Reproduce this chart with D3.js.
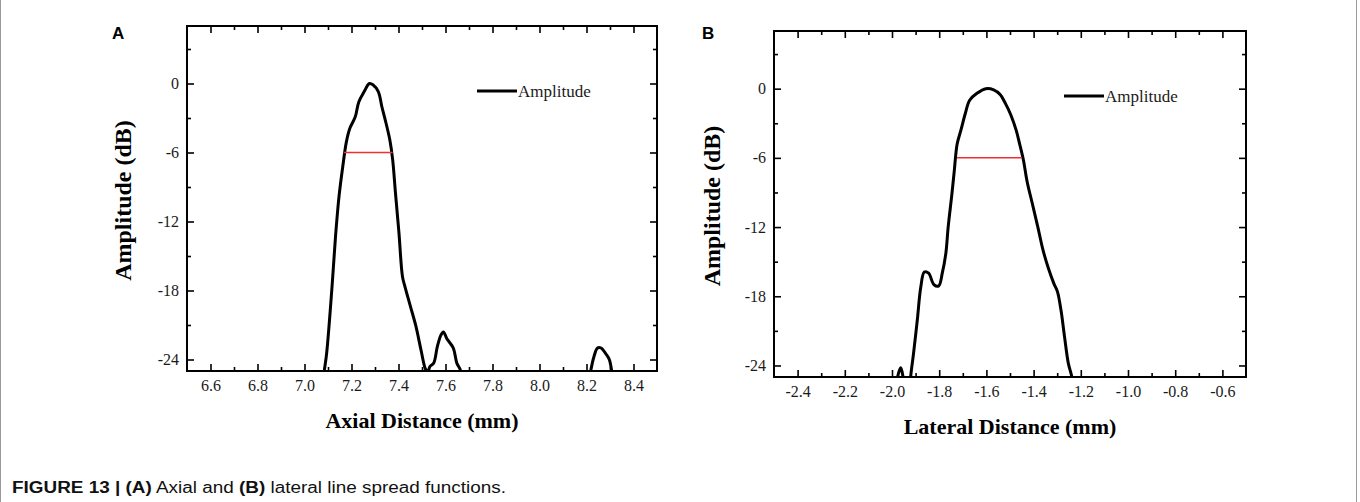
<!DOCTYPE html>
<html>
<head>
<meta charset="utf-8">
<script src="https://cdn.jsdelivr.net/npm/d3@7"></script>
<style>
  body { margin: 0; background: #fff; }
  svg { display: block; }
</style>
</head>
<body>
<svg id="fig" width="1360" height="502"></svg>
<script>
// axial line spread function (A)
var axialX = [7.075, 7.084, 7.094, 7.117, 7.132, 7.147, 7.163, 7.178, 7.193, 7.216, 7.231, 7.254, 7.276,
              7.291, 7.314, 7.329, 7.344, 7.363, 7.375, 7.387, 7.402, 7.417, 7.428, 7.451, 7.474, 7.496,
              7.514, 7.524, 7.534, 7.550, 7.565, 7.580, 7.591, 7.606, 7.633, 7.648, 7.663, 7.675,
              8.205, 8.216, 8.231, 8.247, 8.262, 8.282, 8.297, 8.308, 8.318];
var axialY = [-26.5, -25.0, -23.5, -17.7, -13.3, -9.8, -7.2, -5.1, -3.9, -2.9, -1.6, -0.7, 0.0,
              -0.1, -0.7, -2.0, -3.2, -4.9, -6.6, -9.5, -13.0, -16.8, -17.7, -19.4, -21.1, -23.2,
              -24.8, -25.1, -24.6, -24.3, -22.9, -21.9, -21.6, -22.2, -23.0, -24.3, -24.9, -26.5,
              -26.5, -25.2, -23.8, -23.0, -23.0, -23.5, -24.0, -25.1, -26.5];
var axialFwhm = [7.167, 7.375];

// lateral line spread function (B)
var lateralX = [-1.985, -1.974, -1.963, -1.954, -1.945, -1.925, -1.921, -1.909, -1.893, -1.878, -1.863,
                -1.845, -1.822, -1.802, -1.787, -1.772, -1.762, -1.746, -1.736, -1.724, -1.708, -1.690,
                -1.671, -1.640, -1.602, -1.569, -1.542, -1.519, -1.496, -1.474, -1.459, -1.443, -1.428,
                -1.405, -1.382, -1.360, -1.337, -1.314, -1.299, -1.284, -1.269, -1.253, -1.238, -1.230];
var lateralY = [-26.5, -24.8, -24.2, -24.9, -26.5, -26.5, -25.0, -23.0, -20.1, -17.2, -15.9,
                -16.0, -17.0, -17.1, -16.0, -14.3, -12.0, -9.1, -7.1, -4.8, -3.6, -2.2,
                -1.0, -0.4, 0.0, -0.1, -0.5, -1.3, -2.3, -3.6, -4.8, -6.2, -8.0,
                -10.0, -12.0, -14.0, -15.6, -16.9, -17.6, -19.2, -21.5, -23.8, -25.0, -26.5];
var lateralFwhm = [-1.725, -1.450];

var axialTicks   = [6.6, 6.8, 7.0, 7.2, 7.4, 7.6, 7.8, 8.0, 8.2, 8.4];
var axialMinor   = [6.7, 6.9, 7.1, 7.3, 7.5, 7.7, 7.9, 8.1, 8.3];
var lateralTicks = [-2.4, -2.2, -2.0, -1.8, -1.6, -1.4, -1.2, -1.0, -0.8, -0.6];
var lateralMinor = [-2.3, -2.1, -1.9, -1.7, -1.5, -1.3, -1.1, -0.9, -0.7];
var dbTicks      = [0, -6, -12, -18, -24];
var dbMinor      = [3, -3, -9, -15, -21];

var serif = 'Liberation Serif, Times New Roman, serif';
var svg = d3.select('#fig');
svg.append('rect').attr('width', 1360).attr('height', 502).attr('fill', '#fff');
svg.append('line').attr('x1', 0.5).attr('x2', 0.5).attr('y1', 0).attr('y2', 502)
  .attr('stroke', '#9a9a9a').attr('stroke-width', 1);
svg.append('line').attr('x1', 1356.5).attr('x2', 1356.5).attr('y1', 0).attr('y2', 502)
  .attr('stroke', '#9a9a9a').attr('stroke-width', 1);

function drawPanel(opt) {
  var w = opt.right - opt.left, h = opt.bottom - opt.top;
  var x = d3.scaleLinear().domain(opt.xDomain).range([0, w]);
  var y = d3.scaleLinear().domain([-25, 5]).range([h, 0]);
  var g = svg.append('g').attr('transform', 'translate(' + opt.left + ',' + opt.top + ')');

  svg.append('text').attr('x', opt.labelX).attr('y', 39)
    .attr('font-family', 'Liberation Sans, Arial, sans-serif')
    .attr('font-weight', 'bold').attr('font-size', 17).text(opt.label);

  g.append('clipPath').attr('id', 'clip' + opt.label)
    .append('rect').attr('width', w).attr('height', h);

  function styleAxis(sel) {
    sel.select('.domain').remove();
    sel.selectAll('.tick line').attr('stroke', '#000').attr('stroke-width', 1.6);
    sel.selectAll('.tick text').attr('font-family', serif)
      .attr('font-size', 16).attr('fill', '#1a1a1a');
  }
  // plain hyphen minus like the original figure
  var fmtX = function (d) { return d.toFixed(1); };
  var fmtY = function (d) { return String(d); };

  g.append('g').attr('transform', 'translate(0,' + h + ')')
    .call(d3.axisBottom(x).tickValues(opt.xTicks).tickSize(-7).tickPadding(9).tickFormat(fmtX))
    .call(styleAxis);
  g.append('g').attr('transform', 'translate(0,' + h + ')')
    .call(d3.axisBottom(x).tickValues(opt.xMinor).tickSize(-4).tickFormat(''))
    .call(styleAxis);
  g.append('g')
    .call(d3.axisTop(x).tickValues(opt.xTicks).tickSize(-7).tickFormat(''))
    .call(styleAxis);
  g.append('g')
    .call(d3.axisTop(x).tickValues(opt.xMinor).tickSize(-4).tickFormat(''))
    .call(styleAxis);
  g.append('g')
    .call(d3.axisLeft(y).tickValues(dbTicks).tickSize(-7).tickPadding(8).tickFormat(fmtY))
    .call(styleAxis);
  g.append('g')
    .call(d3.axisLeft(y).tickValues(dbMinor).tickSize(-4).tickFormat(''))
    .call(styleAxis);
  g.append('g').attr('transform', 'translate(' + w + ',0)')
    .call(d3.axisRight(y).tickValues(dbTicks).tickSize(-7).tickFormat(''))
    .call(styleAxis);
  g.append('g').attr('transform', 'translate(' + w + ',0)')
    .call(d3.axisRight(y).tickValues(dbMinor).tickSize(-4).tickFormat(''))
    .call(styleAxis);

  var pts = opt.xs.map(function (v, i) { return [v, opt.ys[i]]; });
  var line = d3.line().x(function (d) { return x(d[0]); }).y(function (d) { return y(d[1]); })
    .curve(d3.curveCatmullRom.alpha(0.5));
  g.append('path').datum(pts).attr('clip-path', 'url(#clip' + opt.label + ')')
    .attr('d', line).attr('fill', 'none').attr('stroke', '#000')
    .attr('stroke-width', 3).attr('stroke-linejoin', 'round');

  g.append('line').attr('x1', x(opt.fwhm[0])).attr('x2', x(opt.fwhm[1]))
    .attr('y1', y(-6)).attr('y2', y(-6)).attr('stroke', '#f03030').attr('stroke-width', 1.5);

  g.append('rect').attr('width', w).attr('height', h)
    .attr('fill', 'none').attr('stroke', '#000').attr('stroke-width', 2);

  // legend
  g.append('line').attr('x1', opt.legX).attr('x2', opt.legX + 40)
    .attr('y1', opt.legY).attr('y2', opt.legY).attr('stroke', '#000').attr('stroke-width', 3);
  g.append('text').attr('x', opt.legX + 41).attr('y', opt.legY + 6)
    .attr('font-family', serif).attr('font-size', 17)
    .attr('fill', '#1a1a1a').text('Amplitude');

  svg.append('text').attr('x', opt.left + w / 2).attr('y', opt.bottom + 57)
    .attr('text-anchor', 'middle')
    .attr('font-family', serif)
    .attr('font-weight', 'bold').attr('font-size', 22).text(opt.xTitle);
  svg.append('text')
    .attr('transform', 'translate(' + opt.yTitleX + ',' + (opt.top + h / 2 + 2) + ') rotate(-90)')
    .attr('text-anchor', 'middle')
    .attr('font-family', serif)
    .attr('font-weight', 'bold').attr('font-size', 24).text('Amplitude (dB)');
}

drawPanel({
  label: 'A', labelX: 112, left: 187, right: 657, top: 26, bottom: 371,
  xDomain: [6.5, 8.5], xTicks: axialTicks, xMinor: axialMinor,
  xs: axialX, ys: axialY, fwhm: axialFwhm,
  legX: 290, legY: 65, xTitle: 'Axial Distance (mm)', yTitleX: 131
});
drawPanel({
  label: 'B', labelX: 702, left: 774, right: 1246, top: 31, bottom: 377,
  xDomain: [-2.5, -0.5], xTicks: lateralTicks, xMinor: lateralMinor,
  xs: lateralX, ys: lateralY, fwhm: lateralFwhm,
  legX: 290, legY: 65, xTitle: 'Lateral Distance (mm)', yTitleX: 720
});

var cap = svg.append('text').attr('x', 12).attr('y', 493)
  .attr('font-family', 'Liberation Sans Narrow, Liberation Sans, Arial, sans-serif')
  .attr('font-size', 16).attr('fill', '#111')
  .attr('textLength', 494).attr('lengthAdjust', 'spacingAndGlyphs');
cap.append('tspan').attr('font-weight', 'bold').text('FIGURE 13 | (A)');
cap.append('tspan').text(' Axial and ');
cap.append('tspan').attr('font-weight', 'bold').text('(B)');
cap.append('tspan').text(' lateral line spread functions.');
</script>
</body>
</html>
